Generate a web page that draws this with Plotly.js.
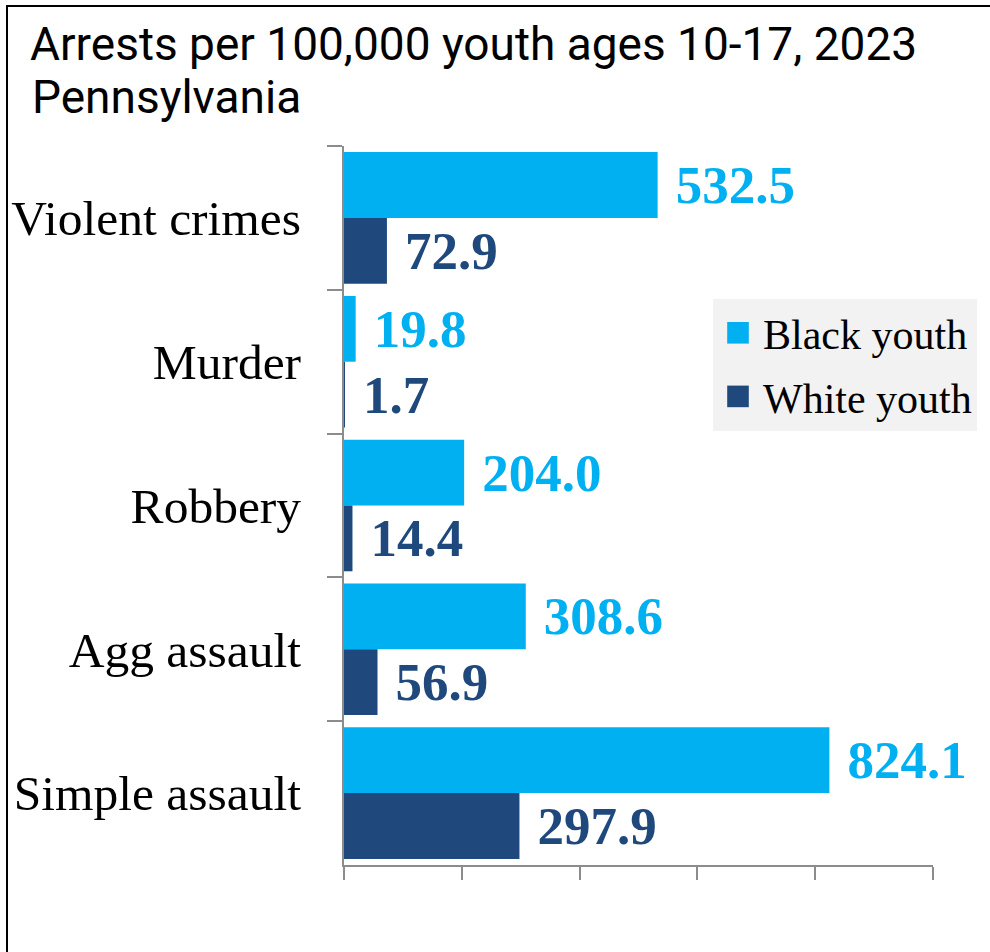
<!DOCTYPE html>
<html>
<head>
<meta charset="utf-8">
<script src="https://cdn.plot.ly/plotly-3.0.1.min.js"></script>
<style>
  html, body { margin: 0; padding: 0; background: #ffffff; }
  #chart { width: 990px; height: 952px; }
</style>
</head>
<body>
<div id="chart"></div>
<script>
// ---- Data ----
const categories = ["Violent crimes", "Murder", "Robbery", "Agg assault", "Simple assault"];
const blackYouth = [532.5, 19.8, 204.0, 308.6, 824.1];
const whiteYouth = [72.9, 1.7, 14.4, 56.9, 297.9];
const seriesNames = ["Black youth", "White youth"];
const xTicks = [0, 200, 400, 600, 800, 1000];
const titleLines = ["Arrests per 100,000 youth ages 10-17, 2023", "Pennsylvania"];

// ---- Styles ----
const colBlack = "#00B0F0";
const colWhite = "#1F497D";
const serif = "Liberation Serif, Times New Roman, serif";
const sans = "Roboto, Liberation Sans, sans-serif";
const axisGray = "#8c8c8c";

const valueFont = (c) => ({ family: serif, size: 53, color: c, weight: "bold" });

const traces = [
  {
    type: "bar", orientation: "h", name: seriesNames[0], legendgroup: "b",
    y: categories, x: blackYouth,
    marker: { color: colBlack },
    texttemplate: "\u2009\u200A%{x:.1f}",
    textposition: "outside", constraintext: "none", cliponaxis: false,
    textfont: valueFont(colBlack),
    hoverinfo: "x+y"
  },
  {
    type: "bar", orientation: "h", name: seriesNames[1], legendgroup: "w",
    y: categories, x: whiteYouth,
    marker: { color: colWhite },
    texttemplate: "\u2009\u200A%{x:.1f}",
    textposition: "outside", constraintext: "none", cliponaxis: false,
    textfont: valueFont(colWhite),
    hoverinfo: "x+y"
  }
];

const layout = {
  width: 990, height: 952,
  paper_bgcolor: "#ffffff", plot_bgcolor: "#ffffff",
  margin: { l: 344, r: 57, t: 146, b: 87, pad: 0 },
  title: {
    text: titleLines[0],
    font: { family: sans, size: 46, color: "#000000" },
    x: 30 / 990, xref: "container", xanchor: "left",
    y: 1 - 28 / 952, yref: "container", yanchor: "top"
  },
  annotations: [
    {
      text: titleLines[1],
      xref: "paper", yref: "paper",
      x: (30 - 344) / 589, y: (865 - 68) / 719,
      xanchor: "left", yanchor: "top",
      showarrow: false,
      font: { family: sans, size: 46, color: "#000000" }
    }
  ],
  barmode: "group",
  bargap: 0.085,
  bargroupgap: 0,
  showlegend: true,
  legend: {
    x: (713 - 344) / 589, y: (865 - 299) / 719,
    xanchor: "left", yanchor: "top",
    bgcolor: "#f2f2f2",
    font: { family: serif, size: 42, color: "#000000" },
    traceorder: "grouped",
    tracegroupgap: 6,
    entrywidth: 284,
    itemwidth: 40
  },
  xaxis: {
    range: [0, 1000],
    tickmode: "array", tickvals: xTicks,
    showticklabels: false,
    ticks: "outside", ticklen: 13, tickwidth: 2, tickcolor: axisGray,
    showline: true, linecolor: axisGray, linewidth: 2,
    showgrid: false, zeroline: false, fixedrange: true
  },
  yaxis: {
    autorange: "reversed",
    type: "category",
    tickson: "boundaries",
    ticks: "outside", ticklen: 15, tickwidth: 2, tickcolor: axisGray,
    ticklabelstandoff: 31,
    tickfont: { family: serif, size: 49.5, color: "#000000" },
    showline: true, linecolor: axisGray, linewidth: 2,
    showgrid: false, zeroline: false, fixedrange: true
  },
  shapes: [
    {
      type: "rect", xref: "paper", yref: "paper",
      x0: (7 - 344) / 589, x1: 2,
      y0: -1, y1: (865 - 6) / 719,
      line: { color: "#000000", width: 2 },
      fillcolor: "rgba(0,0,0,0)"
    }
  ]
};

Plotly.newPlot("chart", traces, layout, { displayModeBar: false, staticPlot: true }).then(function (gd) {
  // enlarge the legend squares to match the reference
  document.querySelectorAll(".legend .legendpoints path").forEach(function (p) {
    const old = p.getAttribute("transform") || "";
    p.setAttribute("transform", old + " scale(1.8)");
  });
});
</script>
</body>
</html>
